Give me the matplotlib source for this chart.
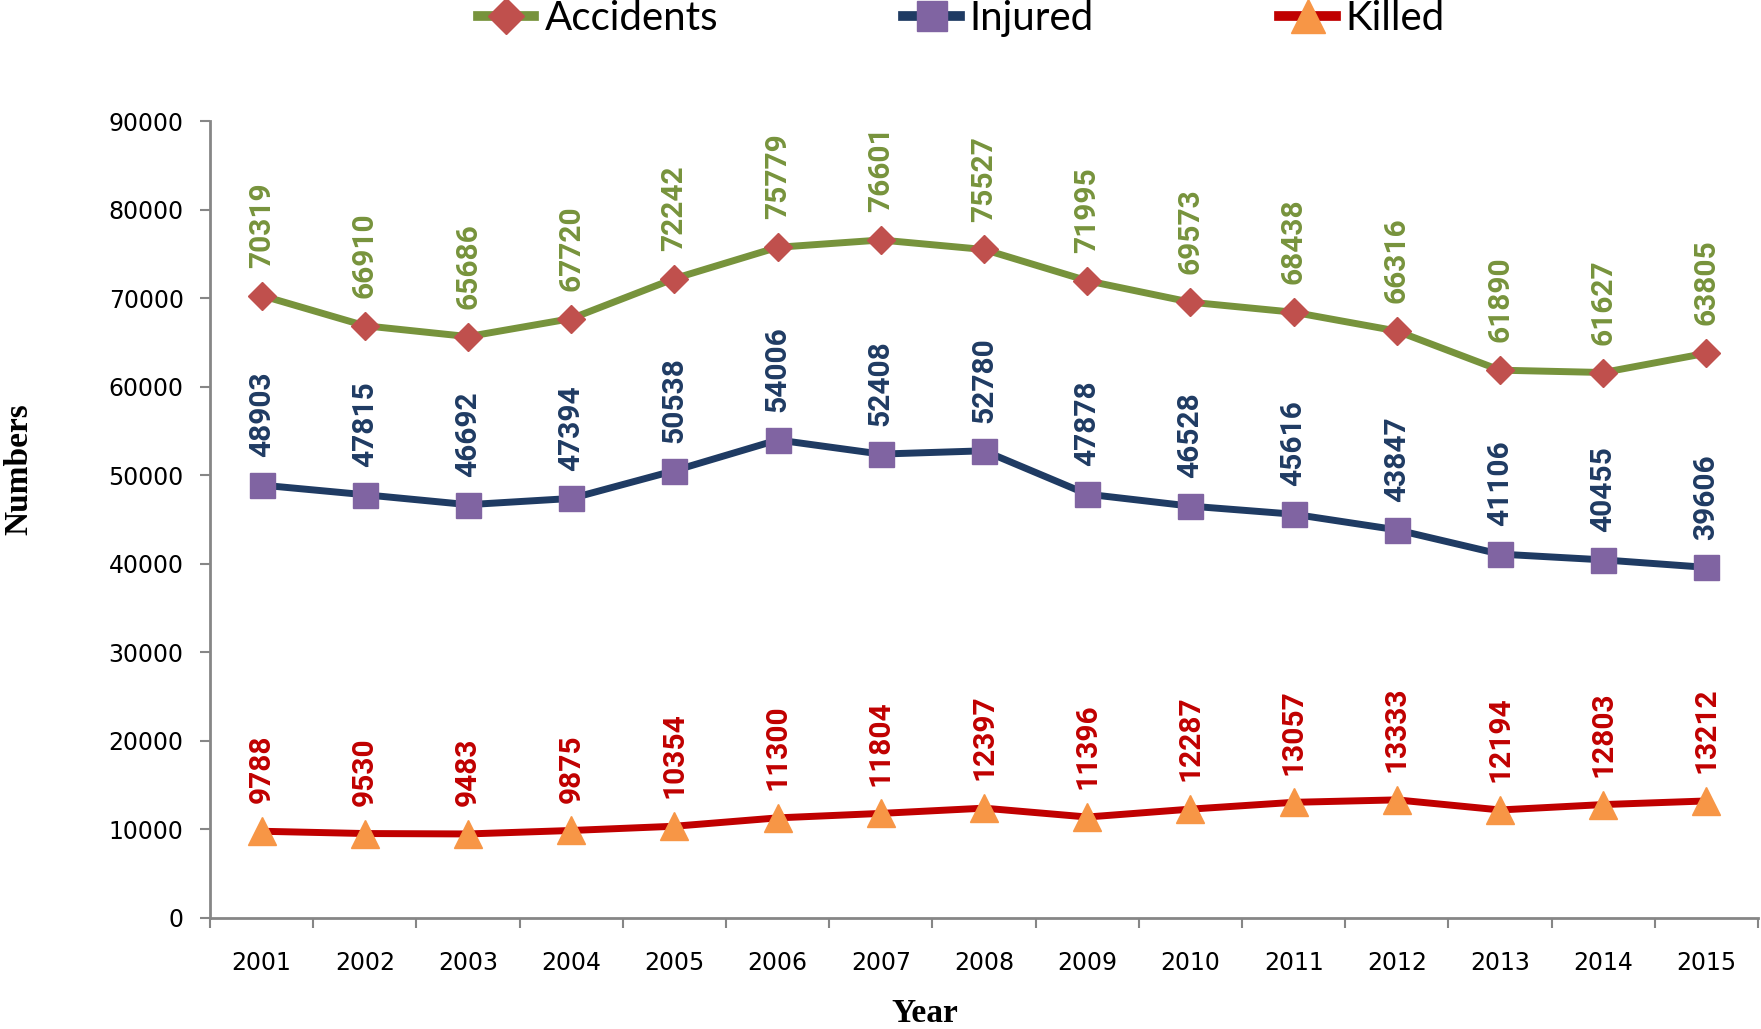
import matplotlib
matplotlib.use("Agg")
import matplotlib.pyplot as plt
from matplotlib.lines import Line2D
import numpy as np

years = ["2001", "2002", "2003", "2004", "2005", "2006", "2007", "2008",
         "2009", "2010", "2011", "2012", "2013", "2014", "2015"]
accidents = [70319, 66910, 65686, 67720, 72242, 75779, 76601, 75527,
             71995, 69573, 68438, 66316, 61890, 61627, 63805]
injured = [48903, 47815, 46692, 47394, 50538, 54006, 52408, 52780,
           47878, 46528, 45616, 43847, 41106, 40455, 39606]
killed = [9788, 9530, 9483, 9875, 10354, 11300, 11804, 12397,
          11396, 12287, 13057, 13333, 12194, 12803, 13212]
yticks = [0, 10000, 20000, 30000, 40000, 50000, 60000, 70000, 80000, 90000]

series = [
    ("Accidents", accidents, "#77933C", "#C0504D", "D", 14, "#77933C"),
    ("Injured", injured, "#1F3B63", "#8064A2", "s", 18, "#1F3B63"),
    ("Killed", killed, "#C00000", "#F79646", "^", 20, "#C00000"),
]

fig = plt.figure(figsize=(17.61, 10.29), dpi=100)
ax = fig.add_axes([0.1193, 0.108, 0.879, 0.774])
x = np.arange(len(years))

handles = []
for name, vals, lc, mc, mk, ms, tc in series:
    ax.plot(x, vals, color=lc, lw=5, marker=mk, markersize=ms,
            markerfacecolor=mc, markeredgecolor=mc, zorder=3)
    for xi, v in zip(x, vals):
        ax.annotate(str(v), (xi, v), xytext=(0, 20), textcoords="offset points",
                    rotation=90, ha="center", va="bottom", color=tc,
                    fontsize=21.5, fontweight="bold", family="Roboto")
    handles.append(Line2D([0], [0], color=lc, lw=7, marker=mk, markersize=ms + 4,
                          markerfacecolor=mc, markeredgecolor=mc, label=name))

ax.set_xlim(-0.5, len(years) - 0.5)
ax.set_ylim(0, 90000)
ax.set_yticks(yticks)
ax.set_yticklabels([str(t) for t in yticks], fontsize=17, family="DejaVu Sans")
ax.set_xticks(x)
ax.set_xticklabels(years, fontsize=17, family="DejaVu Sans")
ax.set_xticks(np.arange(-0.5, len(years), 1.0), minor=True)
ax.tick_params(axis="x", which="major", length=0, pad=24)
ax.tick_params(axis="x", which="minor", length=7, width=1.5, color="#868686")
ax.tick_params(axis="y", length=7, width=1.5, color="#868686", pad=12)
for s in ["top", "right"]:
    ax.spines[s].set_visible(False)
for s in ["left", "bottom"]:
    ax.spines[s].set_color("#868686")
    ax.spines[s].set_linewidth(2)

fig.text(0.011, 1 - 469 / 1029, "Numbers", rotation=90, ha="center", va="center",
         fontsize=24, fontweight="bold", family="Liberation Serif")
fig.text(925 / 1761, 1 - 1013 / 1029, "Year", ha="center", va="center",
         fontsize=24, fontweight="bold", family="Liberation Serif")

fig.legend(handles=handles, loc="center", bbox_to_anchor=(0.546, 0.982), ncol=3,
           frameon=False, handlelength=1.4, handletextpad=0.25, columnspacing=4.6,
           prop={"family": "Lato", "size": 29})

fig.savefig("out.png", dpi=100)
